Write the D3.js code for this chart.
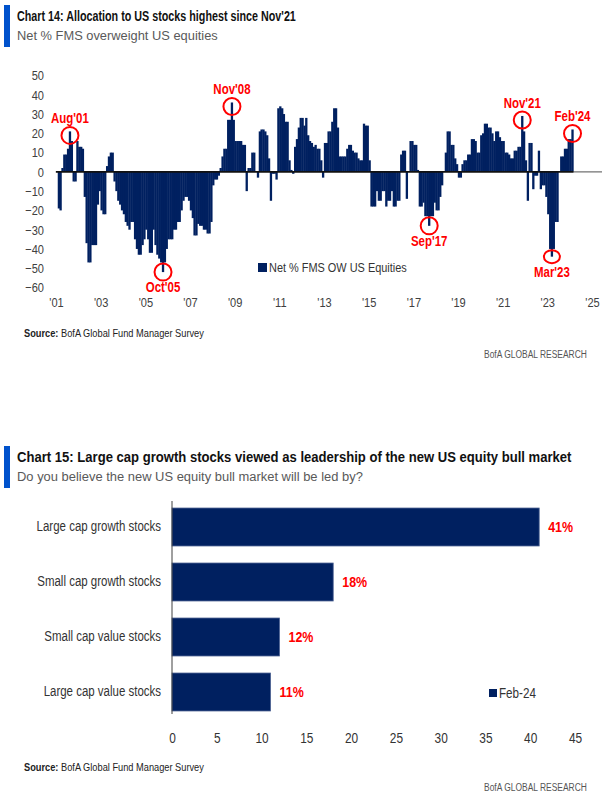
<!DOCTYPE html>
<html><head><meta charset="utf-8">
<script src="https://cdn.jsdelivr.net/npm/d3@7"></script>
<style>
html,body{margin:0;padding:0;background:#fff;}
svg{display:block;}
text{font-family:"Liberation Sans",Arial,sans-serif;}
</style></head><body>
<svg id="c" width="607" height="799"></svg>
<script>
// ---------- Chart 14 data: Net % FMS overweight US equities (monthly, from Jan 2001) ----------
const startMonth = "2001-01";
const netOW = [
  0,-19,-20,2,9,9,12,21,16,-5,-5,16,
  13,13,12,-13,-37,-47,-47,-38,-38,-38,-17,-10,
  -20,-22,-22,3,8,10,10,-5,-10,-15,-17,-20,
  -22,-26,-28,-30,-26,-26,-35,-40,-43,-43,-38,-35,
  -30,-35,-42,-42,-30,-38,-43,-45,-47,-52,-47,-40,
  -35,-35,-35,-30,-30,-26,-26,-20,-15,-13,-13,-15,
  -20,-24,-33,-33,-27,-28,-28,-30,-30,-32,-32,-26,
  -7,-4,-4,-2,2,8,12,12,27,27,36,27,
  16,16,16,16,14,14,-10,2,2,10,10,0,
  -3,21,22,22,21,19,7,-15,-1,-1,-4,33,
  34,33,30,26,26,6,1,-1,13,17,23,28,
  28,24,28,19,16,15,13,14,12,12,6,-3,
  15,15,21,21,26,33,33,23,8,8,8,8,
  12,14,14,11,10,10,7,6,6,25,24,24,
  6,-18,-18,-18,-10,-15,-15,-10,-10,-18,-15,-15,
  -10,-18,-18,-15,-15,9,11,11,-14,0,16,16,
  14,14,1,-18,-18,-16,-23,-23,-28,-23,-23,-16,
  -20,-20,-13,-7,0,10,21,21,14,14,7,4,
  -3,-3,4,6,6,9,9,17,17,16,10,10,
  19,20,25,25,23,23,20,16,21,21,18,16,
  16,10,10,9,7,7,11,11,13,13,29,21,
  6,-15,15,15,-9,-2,-2,11,-9,-7,-7,-13,
  -22,-40,-44,-40,-26,-26,0,8,8,12,12,17,
  17,22
];
const yTicks14 = [-60,-50,-40,-30,-20,-10,0,10,20,30,40,50];
const xTickYears = [2001,2003,2005,2007,2009,2011,2013,2015,2017,2019,2021,2023,2025];
const annoLabels = ["Aug'01","Oct'05","Nov'08","Sep'17","Nov'21","Mar'23","Feb'24"];
const annoMonths = ["2001-08","2005-10","2008-11","2017-09","2021-11","2023-03","2024-02"];
const annoSide   = ["above","below","above","below","above","below","above"];
const legend14 = "Net % FMS OW US Equities";

// ---------- Chart 15 data ----------
const categories = ["Large cap growth stocks","Small cap growth stocks","Small cap value stocks","Large cap value stocks"];
const shares = [41,18,12,11];
const xTicks15 = [0,5,10,15,20,25,30,35,40,45];
const legend15 = "Feb-24";

const NAVY = "#002060", RED = "#FF0000", BLUE = "#0052CC";
const NARROW = 0.82;
const svg = d3.select("#c");

// text condensed horizontally (emulates a narrow face); optional exact target width
function ntext(x, y, str, size, opts={}){
  const t = svg.append("text").attr("font-size", size)
    .attr("font-weight", opts.bold ? "bold" : null)
    .attr("fill", opts.fill || "#333")
    .attr("text-anchor", opts.anchor || "start");
  if (opts.parts){
    opts.parts.forEach(p => t.append("tspan").attr("font-weight", p.bold ? "bold" : "normal").text(p.t));
  } else t.text(str);
  let s = opts.scale || NARROW;
  if (opts.width){ s = opts.width / t.node().getComputedTextLength(); }
  t.attr("transform", `translate(${x},${y}) scale(${s},1)`);
  return t;
}
function header(y0, title, sub, tl, sl){
  svg.append("rect").attr("x",4).attr("y",y0).attr("width",6).attr("height",42).attr("fill",BLUE);
  ntext(17, y0+16, title, 15, {bold:true, fill:"#111", width:tl});
  ntext(17, y0+35, sub, 13.5, {fill:"#595959", width:sl});
}
function footer(ySrc, yBofa){
  ntext(24, ySrc, null, 11, {fill:"#222", width:180,
    parts:[{t:"Source:", bold:true},{t:" BofA Global Fund Manager Survey"}]});
  ntext(484, yBofa, "BofA GLOBAL RESEARCH", 11, {fill:"#555", width:103});
}
function narrowAxisText(sel, size, fill){
  sel.selectAll("text").attr("font-size", size).attr("fill", fill).attr("font-family", null)
    .attr("transform", `scale(${NARROW},1)`);
}

// ================= Chart 14 =================
header(5, "Chart 14: Allocation to US stocks highest since Nov'21", "Net % FMS overweight US equities", 279, 201);

const parseM = d3.timeParse("%Y-%m");
const start = parseM(startMonth);
const data = netOW.map((v,i)=>({date:d3.timeMonth.offset(start,i), v}));
const x = d3.scaleTime().domain([new Date(2001,0,1), new Date(2025,0,1)]).range([56,592]);
const y = d3.scaleLinear().domain([-60,50]).range([287.5,75.5]);
const step = (x.range()[1]-x.range()[0])/288;
const bw = step + 0.45;
const cx = d => x(d) + 1;

const g14 = svg.append("g");
g14.selectAll("rect.bar").data(data).join("rect").attr("class","bar")
  .attr("x", d => cx(d.date) - bw/2)
  .attr("width", bw)
  .attr("y", d => y(Math.max(0,d.v)))
  .attr("height", d => Math.max(0.01, Math.abs(y(d.v)-y(0))))
  .attr("fill", NAVY);

const lastX = cx(data[data.length-1].date) + bw/2;
g14.append("line").attr("x1", cx(data[0].date)-bw/2).attr("x2", lastX).attr("y1", y(0)).attr("y2", y(0))
  .attr("stroke","#111").attr("stroke-width",1.6);
g14.append("line").attr("x1", lastX).attr("x2", 602).attr("y1", y(0)).attr("y2", y(0))
  .attr("stroke","#808080").attr("stroke-width",1.4);

// y axis
const ya = svg.append("g").attr("transform","translate(44,0)")
  .call(d3.axisLeft(y).tickValues(yTicks14).tickSize(0).tickPadding(0));
ya.select(".domain").remove();
narrowAxisText(ya, 13.5, "#404040");

// x axis
const xa = svg.append("g").attr("transform","translate(0,297)")
  .call(d3.axisBottom(x).tickValues(xTickYears.map(yr=>new Date(yr,0,1))).tickSize(0).tickPadding(0)
    .tickFormat(d => "'" + d3.timeFormat("%y")(d)));
xa.select(".domain").remove();
narrowAxisText(xa, 13.5, "#404040");

// annotations
annoLabels.forEach((lab,i)=>{
  const dt = parseM(annoMonths[i]);
  const d = data.find(e => +e.date === +dt);
  const px = cx(d.date);
  const py = annoSide[i]==="above" ? y(d.v)+4 : y(d.v);
  const isMar = lab==="Mar'23";
  svg.append("ellipse").attr("cx",px).attr("cy",py).attr("rx",isMar?8:8.5).attr("ry",isMar?6.5:8.5)
    .attr("fill","none").attr("stroke",RED).attr("stroke-width",2);
  ntext(px, annoSide[i]==="above" ? py-12 : py+20, lab, 14, {bold:true, fill:RED, anchor:"middle"});
});

// legend
svg.append("rect").attr("x",258).attr("y",263).attr("width",9).attr("height",9).attr("fill",NAVY);
ntext(269, 272, legend14, 13.5, {fill:"#333", width:138});

footer(337, 358);

// ================= Chart 15 =================
header(446, "Chart 15: Large cap growth stocks viewed as leadership of the new US equity bull market",
  "Do you believe the new US equity bull market will be led by?", 555, 346);

const xb = d3.scaleLinear().domain([0,45]).range([172,575]);
const yb = d3.scaleBand().domain(categories).range([499.5,719.5]).paddingInner(0.31).paddingOuter(0.155);
const rows = categories.map((c,i)=>({c, v:shares[i]}));

svg.append("g").selectAll("rect").data(rows).join("rect")
  .attr("x", xb(0)).attr("y", d=>yb(d.c)).attr("height", yb.bandwidth())
  .attr("width", d=>xb(d.v)-xb(0)).attr("fill",NAVY).attr("stroke","#4a6091").attr("stroke-width",0.8);

svg.append("line").attr("x1",xb(0)).attr("x2",xb(0)).attr("y1",501).attr("y2",714)
  .attr("stroke","#404040").attr("stroke-width",1);

rows.forEach(d=>{
  ntext(xb(d.v)+9, yb(d.c)+yb.bandwidth()/2+5, d.v+"%", 14.5, {bold:true, fill:RED, scale:0.86});
});

const yba = svg.append("g").attr("transform",`translate(${xb(0)},0)`)
  .call(d3.axisLeft(yb).tickSize(0).tickPadding(11/NARROW));
yba.select(".domain").remove();
narrowAxisText(yba, 14, "#333");

const xba = svg.append("g").attr("transform","translate(0,733)")
  .call(d3.axisBottom(xb).tickValues(xTicks15).tickSize(0).tickPadding(0));
xba.select(".domain").remove();
narrowAxisText(xba, 14.5, "#333");

svg.append("rect").attr("x",489).attr("y",689).attr("width",8).attr("height",8).attr("fill",NAVY);
ntext(499, 698, legend15, 14, {fill:"#333", width:37});

footer(771, 791);
</script>
</body></html>
